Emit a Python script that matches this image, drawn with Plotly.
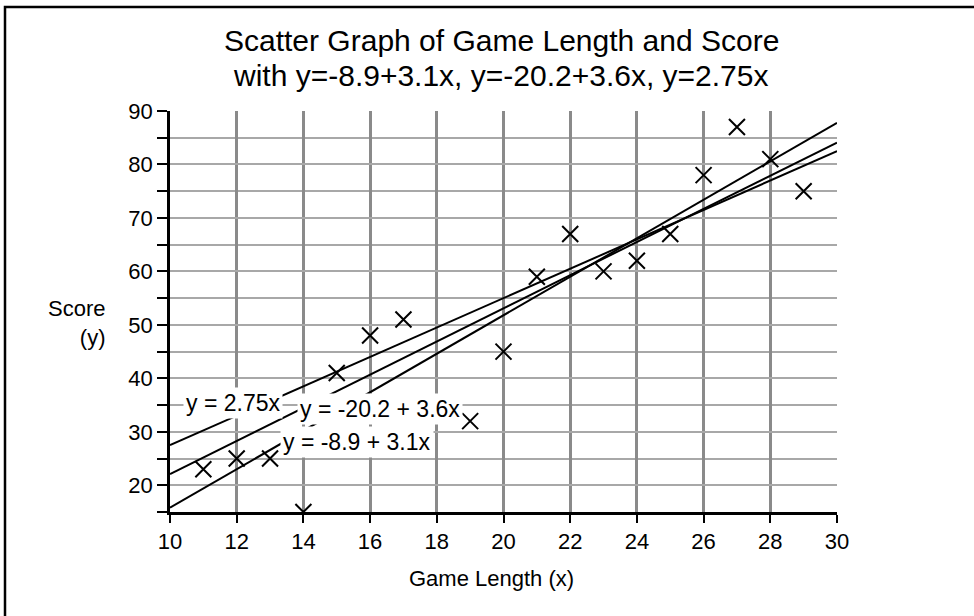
import plotly.graph_objects as go

# ---- data ----
game_length = [11, 12, 13, 14, 15, 16, 17, 19, 20, 21, 22, 23, 24, 25, 26, 27, 28, 29]
score = [23, 25, 25, 15, 41, 48, 51, 32, 45, 59, 67, 60, 62, 67, 78, 87, 81, 75]

line_labels = ["y = -8.9 + 3.1x", "y = -20.2 + 3.6x", "y = 2.75x"]
intercepts = [-8.9, -20.2, 0.0]
slopes = [3.1, 3.6, 2.75]
line_x = [10, 30]

x_tick_vals = list(range(10, 31, 2))
y_tick_vals = list(range(20, 91, 10))

title_lines = ["Scatter Graph of Game Length and Score",
               "with y=-8.9+3.1x, y=-20.2+3.6x, y=2.75x"]
x_title = "Game Length (x)"
y_title = "Score<br>(y)"

FONT = "Liberation Sans, Arial, sans-serif"
W, H = 974, 616
L, R, T, B = 170, 137, 111, 104


def px_to_paper_x(px):
    return (px - L) / (W - L - R)


def px_to_paper_y(py):
    return (H - B - py) / (H - T - B)


fig = go.Figure()

for a, b in zip(intercepts, slopes):
    fig.add_trace(go.Scatter(
        x=line_x, y=[a + b * v for v in line_x], mode="lines",
        line=dict(color="black", width=2), showlegend=False, hoverinfo="skip"))

fig.add_trace(go.Scatter(
    x=game_length, y=score, mode="markers",
    marker=dict(symbol="x-thin", size=16, color="black",
                line=dict(color="black", width=2)),
    showlegend=False))

# label positions (placement only)
label_pos = [(15.62, 28.1), (16.3, 34.3), (11.9, 35.4)]
for txt, (px, py) in zip(line_labels, label_pos):
    fig.add_annotation(x=px, y=py, xref="x", yref="y", text=txt, showarrow=False,
                       bgcolor="white", borderpad=2,
                       font=dict(family=FONT, size=23, color="black"))

# title lines
for txt, cy in zip(title_lines, [40, 75]):
    fig.add_annotation(x=px_to_paper_x(501), y=px_to_paper_y(cy), xref="paper", yref="paper",
                       text=txt, showarrow=False, xanchor="center", yanchor="middle",
                       font=dict(family=FONT, size=30, color="black"))

# y axis title
fig.add_annotation(x=px_to_paper_x(107), y=px_to_paper_y(323), xref="paper", yref="paper",
                   text=y_title, showarrow=False, xanchor="right", yanchor="middle",
                   align="right", font=dict(family=FONT, size=22, color="black"))
# x axis title
fig.add_annotation(x=px_to_paper_x(491), y=px_to_paper_y(578), xref="paper", yref="paper",
                   text=x_title, showarrow=False, xanchor="center", yanchor="middle",
                   font=dict(family=FONT, size=22, color="black"))

# outer frame
fig.add_shape(type="rect", xref="paper", yref="paper",
              x0=px_to_paper_x(5), x1=px_to_paper_x(980),
              y0=px_to_paper_y(622), y1=px_to_paper_y(7),
              line=dict(color="black", width=2.5), fillcolor="rgba(0,0,0,0)", layer="above")

fig.update_layout(
    width=W, height=H,
    margin=dict(l=L, r=R, t=T, b=B),
    paper_bgcolor="white", plot_bgcolor="white",
    font=dict(family=FONT, size=22, color="black"),
    showlegend=False,
)

fig.update_xaxes(
    range=[10, 30], tickmode="array", tickvals=x_tick_vals,
    ticks="outside", ticklen=8, tickwidth=1.5, tickcolor="black",
    showline=True, linecolor="black", linewidth=3,
    showgrid=True, gridcolor="#8a8a8a", gridwidth=2.5,
    zeroline=False, tickfont=dict(family=FONT, size=22, color="black"),
)
fig.update_yaxes(
    range=[15, 90], tickmode="array", tickvals=y_tick_vals,
    ticks="outside", ticklen=10, tickwidth=1.5, tickcolor="black",
    showline=True, linecolor="black", linewidth=2.5,
    showgrid=True, gridcolor="#a8a8a8", gridwidth=1.5,
    minor=dict(dtick=5, tick0=0, ticks="outside", ticklen=10, tickwidth=1.5,
               tickcolor="black", showgrid=True, gridcolor="#a8a8a8", gridwidth=1.5),
    zeroline=False, tickfont=dict(family=FONT, size=22, color="black"),
)

fig.write_html("out.html", config={"displayModeBar": False},
               post_script="document.body.style.margin='0';")
